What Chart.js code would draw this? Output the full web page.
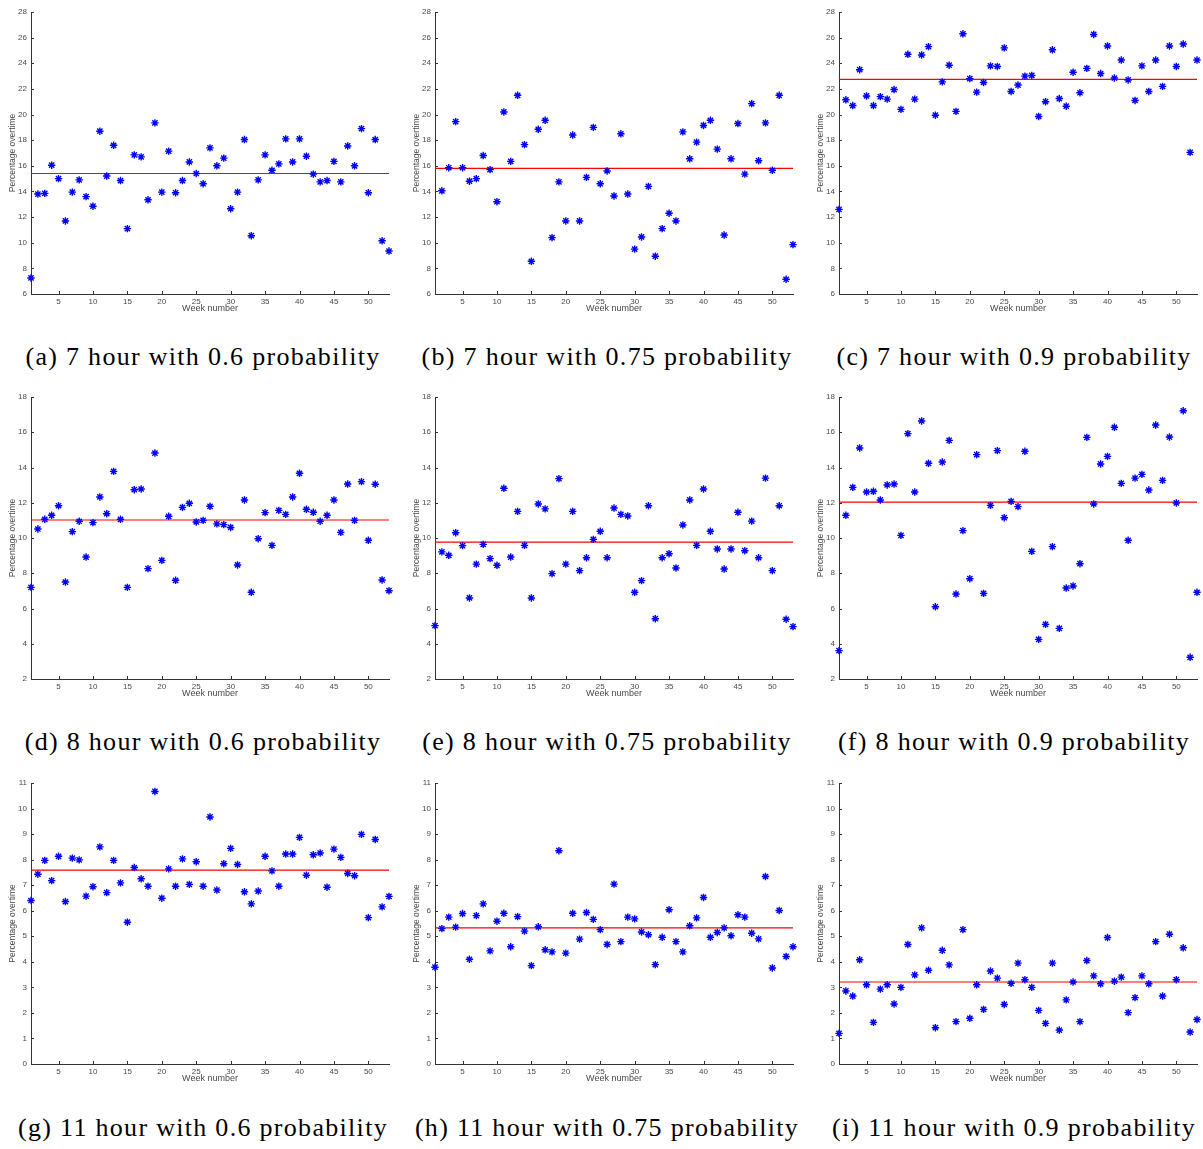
<!DOCTYPE html>
<html>
<head>
<meta charset="utf-8">
<title>Percentage overtime per week</title>
<script src="https://cdn.jsdelivr.net/npm/chart.js@4.4.1/dist/chart.umd.min.js"></script>
<style>
  body { margin: 0; background: #fff; width: 1203px; height: 1149px; position: relative; overflow: hidden; }
  .panel { position: absolute; width: 395px; height: 320px; }
  .caption { position: absolute; width: 420px; text-align: center; font-family: "Liberation Serif", serif;
             font-size: 26px; line-height: 26px; letter-spacing: 1.3px; color: #000; white-space: nowrap; }
</style>
</head>
<body>
<script>
// weeks on the x axis
const weeks = Array.from({ length: 53 }, (_, i) => i + 1);
const xTicks = [5, 10, 15, 20, 25, 30, 35, 40, 45, 50];

// y tick labels per row
const yTicks7 = [6, 8, 10, 12, 14, 16, 18, 20, 22, 24, 26, 28];
const yTicks8 = [2, 4, 6, 8, 10, 12, 14, 16, 18];
const yTicks11 = [0, 1, 2, 3, 4, 5, 6, 7, 8, 9, 10, 11];

// percentage overtime per week
const h7p60 = [7.25, 13.8, 13.85, 16.05, 15.0, 11.7, 13.95, 14.9, 13.6, 12.85, 18.7, 15.2, 17.6, 14.85, 11.1,
  16.85, 16.7, 13.35, 19.35, 13.95, 17.15, 13.9, 14.85, 16.3, 15.4, 14.6, 17.4, 16.0, 16.6, 12.65, 13.95, 18.05,
  10.55, 14.9, 16.85, 15.65, 16.15, 18.1, 16.3, 18.1, 16.75, 15.35, 14.75, 14.85, 16.35, 14.75, 17.55, 16.0,
  18.9, 13.9, 18.05, 10.15, 9.35];
const h7p75 = [null, 14.05, 15.85, 19.45, 15.85, 14.8, 15.0, 16.8, 15.7, 13.2, 20.2, 16.35, 21.5, 17.65, 8.55,
  18.85, 19.55, 10.4, 14.75, 11.7, 18.4, 11.7, 15.1, 19.0, 14.6, 15.6, 13.65, 18.5, 13.8, 9.5, 10.45, 14.4,
  8.95, 11.1, 12.3, 11.7, 18.65, 16.55, 17.85, 19.15, 19.55, 17.3, 10.6, 16.55, 19.3, 15.35, 20.85, 16.4,
  19.35, 15.65, 21.5, 7.15, 9.85];
const h7p90 = [12.6, 21.15, 20.7, 23.5, 21.45, 20.7, 21.4, 21.2, 21.95, 20.4, 24.7, 21.2, 24.65, 25.3, 19.95,
  22.55, 23.85, 20.25, 26.3, 22.8, 21.75, 22.5, 23.8, 23.75, 25.2, 21.8, 22.3, 23.0, 23.05, 19.85, 21.0, 25.05,
  21.25, 20.65, 23.3, 21.7, 23.6, 26.25, 23.2, 25.35, 22.85, 24.25, 22.7, 21.1, 23.8, 21.8, 24.25, 22.2,
  25.35, 23.75, 25.5, 17.05, 24.25];
const h8p60 = [7.2, 10.51, 11.06, 11.29, 11.83, 7.5, 10.36, 10.95, 8.92, 10.87, 12.33, 11.38, 13.78, 11.06, 7.2,
  12.74, 12.78, 8.26, 14.82, 8.73, 11.23, 7.6, 11.74, 11.97, 10.91, 11.0, 11.8, 10.8, 10.76, 10.6, 8.47, 12.16,
  6.92, 9.96, 11.44, 9.58, 11.57, 11.34, 12.33, 13.67, 11.63, 11.46, 10.95, 11.29, 12.16, 10.32, 13.06, 11.0,
  13.2, 9.87, 13.05, 7.62, 7.01];
const h8p75 = [5.03, 9.21, 9.02, 10.3, 9.57, 6.6, 8.52, 9.64, 8.83, 8.45, 12.82, 8.92, 11.51, 9.58, 6.6,
  11.93, 11.65, 7.98, 13.37, 8.52, 11.51, 8.15, 8.88, 9.92, 10.38, 8.88, 11.7, 11.34, 11.25, 6.92, 7.58, 11.83,
  5.42, 8.88, 9.11, 8.3, 10.74, 12.16, 9.58, 12.78, 10.38, 9.38, 8.24, 9.38, 11.46, 9.28, 10.96, 8.88,
  13.4, 8.15, 11.83, 5.39, 4.97];
const h8p90 = [3.61, 11.29, 12.87, 15.11, 12.61, 12.65, 12.16, 13.01, 13.06, 10.15, 15.92, 12.61, 16.64, 14.24, 6.1,
  14.31, 15.54, 6.82, 10.42, 7.69, 14.73, 6.86, 11.85, 14.96, 11.15, 12.08, 11.78, 14.92, 9.24, 4.25, 5.1, 9.51,
  4.87, 7.16, 7.28, 8.54, 15.71, 11.93, 14.2, 14.63, 16.28, 13.1, 9.87, 13.4, 13.61, 12.72, 16.41, 13.27,
  15.73, 11.99, 17.22, 3.23, 6.92];
const h11p60 = [6.4, 7.43, 7.97, 7.18, 8.13, 6.36, 8.06, 7.99, 6.57, 6.94, 8.5, 6.71, 7.97, 7.09, 5.55,
  7.69, 7.25, 6.96, 10.67, 6.49, 7.64, 6.96, 8.03, 7.03, 7.92, 6.96, 9.67, 6.81, 7.84, 8.44, 7.81, 6.74,
  6.27, 6.77, 8.13, 7.56, 6.96, 8.22, 8.22, 8.87, 7.39, 8.19, 8.26, 6.92, 8.41, 8.09, 7.46, 7.37,
  8.99, 5.73, 8.79, 6.15, 6.56];
const h11p75 = [3.79, 5.3, 5.75, 5.36, 5.89, 4.1, 5.81, 6.27, 4.43, 5.59, 5.9, 4.59, 5.77, 5.2, 3.85,
  5.37, 4.47, 4.39, 8.35, 4.34, 5.9, 4.89, 5.93, 5.66, 5.26, 4.68, 7.04, 4.79, 5.75, 5.68, 5.17, 5.06,
  3.89, 4.96, 6.04, 4.79, 4.39, 5.41, 5.72, 6.52, 4.96, 5.15, 5.33, 5.02, 5.84, 5.75, 5.12, 4.9,
  7.34, 3.76, 6.01, 4.21, 4.59];
const h11p90 = [1.2, 2.86, 2.66, 4.08, 3.1, 1.63, 2.93, 3.1, 2.35, 3.0, 4.68, 3.49, 5.33, 3.67, 1.42,
  4.45, 3.88, 1.66, 5.26, 1.79, 3.1, 2.14, 3.64, 3.36, 2.33, 3.16, 3.95, 3.3, 3.0, 2.1, 1.59, 3.95,
  1.33, 2.51, 3.21, 1.66, 4.05, 3.45, 3.14, 4.95, 3.24, 3.4, 2.01, 2.6, 3.45, 3.14, 4.79, 2.66,
  5.08, 3.3, 4.55, 1.25, 1.74];

// average line of each panel
const means = [15.4, 15.8, 22.75, 11.02, 9.77, 12.04, 7.59, 5.33, 3.21];

const captions = [
  '(a) 7 hour with 0.6 probability', '(b) 7 hour with 0.75 probability', '(c) 7 hour with 0.9 probability',
  '(d) 8 hour with 0.6 probability', '(e) 8 hour with 0.75 probability', '(f) 8 hour with 0.9 probability',
  '(g) 11 hour with 0.6 probability', '(h) 11 hour with 0.75 probability', '(i) 11 hour with 0.9 probability'
];

const series = [h7p60, h7p75, h7p90, h8p60, h8p75, h8p90, h11p60, h11p75, h11p90];
const rowTicks = [yTicks7, yTicks8, yTicks11];
const rowTop = [12, 12, 13];
const captionCenters = [203, 607, 1014];
const captionBaselines = [365, 750, 1136];

const axisColor = '#333333';
const textColor = '#4a4a4a';
const fontFamily = '"Liberation Sans", Arial, sans-serif';

// MATLAB style: short tick marks pointing into the plot
const inwardTicks = {
    id: 'inwardTicks',
    afterDraw(chart) {
        const ctx = chart.ctx;
        const xs = chart.scales.x, ys = chart.scales.y;
        const area = chart.chartArea;
        ctx.save();
        ctx.strokeStyle = axisColor;
        ctx.lineWidth = 1;
        ctx.beginPath();
        xs.ticks.forEach(t => {
            const px = Math.round(xs.getPixelForValue(t.value)) + 0.5;
            ctx.moveTo(px, area.bottom);
            ctx.lineTo(px, area.bottom - 3);
        });
        ys.ticks.forEach(t => {
            const py = Math.round(ys.getPixelForValue(t.value)) + 0.5;
            ctx.moveTo(area.left, py);
            ctx.lineTo(area.left + 3, py);
        });
        ctx.stroke();
        ctx.restore();
    }
};

series.forEach((vals, i) => {
    const row = Math.floor(i / 3), col = i % 3;
    const ticks = rowTicks[row];

    const canvas = document.createElement('canvas');
    canvas.className = 'panel';
    canvas.width = 395;
    canvas.height = 320;
    canvas.style.left = (col * 404) + 'px';
    canvas.style.top = (row * 385) + 'px';
    document.body.appendChild(canvas);

    const cap = document.createElement('div');
    cap.className = 'caption';
    cap.textContent = captions[i];
    cap.style.left = (captionCenters[col] - 210) + 'px';
    cap.style.top = (captionBaselines[row] - 21) + 'px';
    document.body.appendChild(cap);

    const points = weeks.map((w, k) => ({ x: w, y: vals[k] })).filter(p => p.y !== null);

    new Chart(canvas.getContext('2d'), {
        type: 'scatter',
        data: {
            datasets: [
                {
                    data: points,
                    pointStyle: 'star',
                    radius: 3.7,
                    borderColor: '#0000ff',
                    backgroundColor: '#0000ff',
                    borderWidth: 1.4,
                    clip: false
                },
                {
                    data: [{ x: weeks[0], y: means[i] }, { x: weeks[weeks.length - 1], y: means[i] }],
                    showLine: true,
                    borderColor: '#ff0000',
                    borderWidth: 1.2,
                    pointRadius: 0
                }
            ]
        },
        options: {
            responsive: false,
            animation: false,
            events: [],
            layout: { padding: { top: rowTop[row], right: 6, left: 0, bottom: 0 } },
            plugins: {
                legend: { display: false },
                tooltip: { enabled: false }
            },
            scales: {
                x: {
                    type: 'linear',
                    min: 1,
                    max: 53,
                    afterBuildTicks: ax => { ax.ticks = xTicks.map(v => ({ value: v })); },
                    afterFit: ax => { ax.height = 26; },
                    grid: { display: false, drawTicks: false },
                    border: { display: true, color: axisColor, width: 1 },
                    ticks: { color: textColor, font: { family: fontFamily, size: 8 }, padding: 3, maxRotation: 0, autoSkip: false },
                    title: { display: true, text: 'Week number', color: textColor,
                             font: { family: fontFamily, size: 9 }, padding: { top: 0, bottom: 6 } }
                },
                y: {
                    type: 'linear',
                    min: ticks[0],
                    max: ticks[ticks.length - 1],
                    afterBuildTicks: ax => { ax.ticks = ticks.map(v => ({ value: v })); },
                    afterFit: ax => { ax.width = 31; },
                    grid: { display: false, drawTicks: false },
                    border: { display: true, color: axisColor, width: 1 },
                    ticks: { color: textColor, font: { family: fontFamily, size: 8 }, padding: 4, autoSkip: false },
                    title: { display: true, text: 'Percentage overtime', color: textColor,
                             font: { family: fontFamily, size: 8.5 }, padding: { top: 8, bottom: 0 } }
                }
            }
        },
        plugins: [inwardTicks]
    });
});
</script>
</body>
</html>
